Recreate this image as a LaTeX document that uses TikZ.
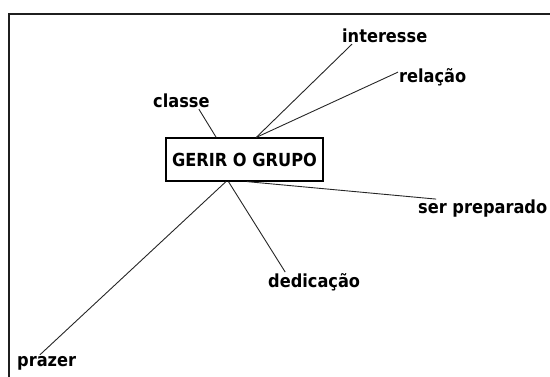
\documentclass[tikz,border=0pt]{standalone}
\usepackage{fontspec}
\setmainfont{DejaVu Sans Condensed}
\usepackage{tikz}

\tikzset{
  word/.style={font=\bfseries\fontsize{18}{20}\selectfont, inner sep=1pt, anchor=west},
  tie/.style={draw=black!85, line width=0.9pt},
}

\begin{document}
\begin{tikzpicture}[x=1pt, y=-1pt]
    \useasboundingbox (0, 0) rectangle (550, 376);
    % frame, only top and left show
    \path[draw, line width=2.6pt, black!88] (9, 377) -- (9, 14) -- (551, 14);

    \node[draw, line width=1.2pt, minimum width=157pt, minimum height=43pt,
          font=\bfseries\fontsize{18}{20}\selectfont] (grupo) at (244.5, 159.5) {GERIR O GRUPO};

    \node[word] (interesse) at (341, 36) {interesse};
    \node[word] (relacao) at (398, 77) {relação};
    \node[word] (classe) at (152, 101) {classe};
    \node[word] (serprep) at (417, 209) {ser preparado};
    \node[word] (dedicacao) at (267, 282) {dedicação};
    \node[word] (prazer) at (16, 363) {prazer};

    \path[tie] (grupo.62) -- (interesse.194);
    \path[tie] (grupo.62) -- (relacao.172);
    \path[tie] (grupo.142) -- (classe.-25);
    \path[tie] (grupo.-84) -- (serprep.168);
    \path[tie] (grupo.-126) -- (dedicacao.161);
    \path[tie] (grupo.-130) -- (prazer.130);
\end{tikzpicture}
\end{document}
